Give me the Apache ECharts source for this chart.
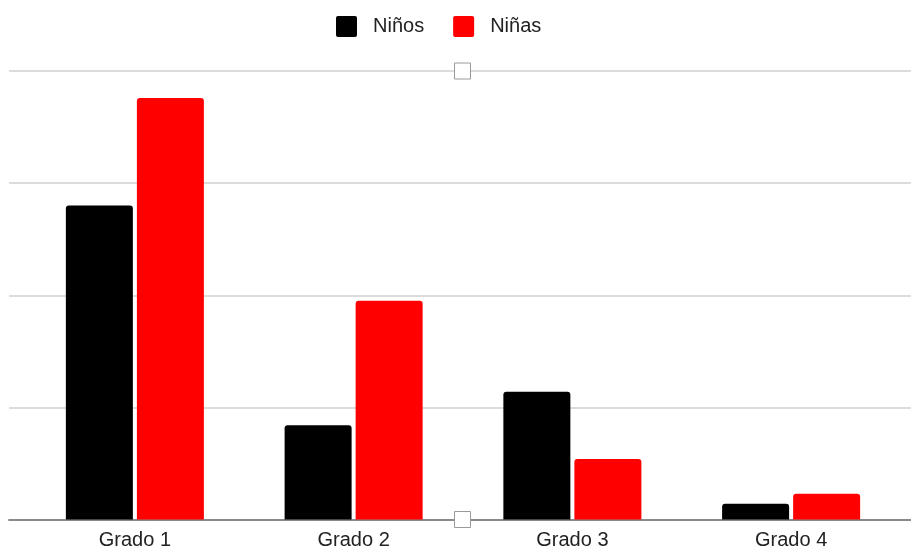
<!DOCTYPE html>
<html>
<head>
<meta charset="utf-8">
<script src="https://cdn.jsdelivr.net/npm/echarts@6/dist/echarts.min.js"></script>
<style>
  html, body { margin: 0; padding: 0; background: #ffffff; }
  #chart { width: 911px; height: 554px; }
</style>
</head>
<body>
<div id="chart"></div>
<script>
// Students per grade, split by gender
const categories = ['Grado 1', 'Grado 2', 'Grado 3', 'Grado 4'];
const ninos = [28, 8.4, 11.4, 1.4];
const ninas = [37.6, 19.5, 5.4, 2.3];
const seriesNames = ['Niños', 'Niñas'];
const yMax = 40;
const yStep = 10;

const chart = echarts.init(document.getElementById('chart'), null, { renderer: 'canvas' });

const font = 'Arial, "Liberation Sans", Helvetica, sans-serif';
// square legend swatch with slightly rounded corners
const swatch = 'path://M2,0 L19,0 Q21,0 21,2 L21,19 Q21,21 19,21 L2,21 Q0,21 0,19 L0,2 Q0,0 2,0 Z';

chart.setOption({
  backgroundColor: '#ffffff',
  animation: false,
  legend: {
    data: seriesNames,
    left: 336,
    top: 16,
    padding: 0,
    itemWidth: 21,
    itemHeight: 21,
    itemGap: 29,
    icon: swatch,
    textStyle: { fontFamily: font, fontSize: 20, color: '#222222', padding: [0, 0, 0, 11] }
  },
  grid: [
    // full-width grid carrying the horizontal rules and baseline
    { left: 9, right: 0, top: 71, bottom: 34.5 },
    // inner grid holding the bars
    { left: 25.5, right: 10.5, top: 71, bottom: 34.5 }
  ],
  xAxis: [
    {
      gridIndex: 0, type: 'category', data: [''],
      axisLine: { show: true, lineStyle: { color: '#8a8a8a', width: 2 } },
      axisTick: { show: false }, axisLabel: { show: false }
    },
    {
      gridIndex: 1, type: 'category', data: categories,
      axisLine: { show: false }, axisTick: { show: false },
      axisLabel: { fontFamily: font, fontSize: 20, color: '#222222', margin: 11 }
    }
  ],
  yAxis: [
    {
      gridIndex: 0, type: 'value', min: 0, max: yMax, interval: yStep,
      axisLine: { show: false }, axisTick: { show: false }, axisLabel: { show: false },
      splitLine: { show: true, lineStyle: { color: '#dcdcdc', width: 2 } }
    },
    {
      gridIndex: 1, type: 'value', min: 0, max: yMax, interval: yStep,
      axisLine: { show: false }, axisTick: { show: false }, axisLabel: { show: false },
      splitLine: { show: false }
    }
  ],
  series: [
    {
      name: seriesNames[0], type: 'bar', xAxisIndex: 1, yAxisIndex: 1,
      data: ninos, barWidth: 67, barGap: '6%',
      itemStyle: { color: '#000000', borderRadius: [3, 3, 0, 0] }
    },
    {
      name: seriesNames[1], type: 'bar', xAxisIndex: 1, yAxisIndex: 1,
      data: ninas, barWidth: 67, barGap: '6%',
      itemStyle: { color: '#ff0000', borderRadius: [3, 3, 0, 0] }
    }
  ],
  graphic: [
    // chart-frame resize handles
    { type: 'rect', shape: { x: 454.5, y: 63, width: 16, height: 16 }, style: { fill: '#ffffff', stroke: '#9a9a9a', lineWidth: 1 }, z: 100 },
    { type: 'rect', shape: { x: 454.5, y: 511.5, width: 16, height: 16 }, style: { fill: '#ffffff', stroke: '#9a9a9a', lineWidth: 1 }, z: 100 }
  ]
});
</script>
</body>
</html>
